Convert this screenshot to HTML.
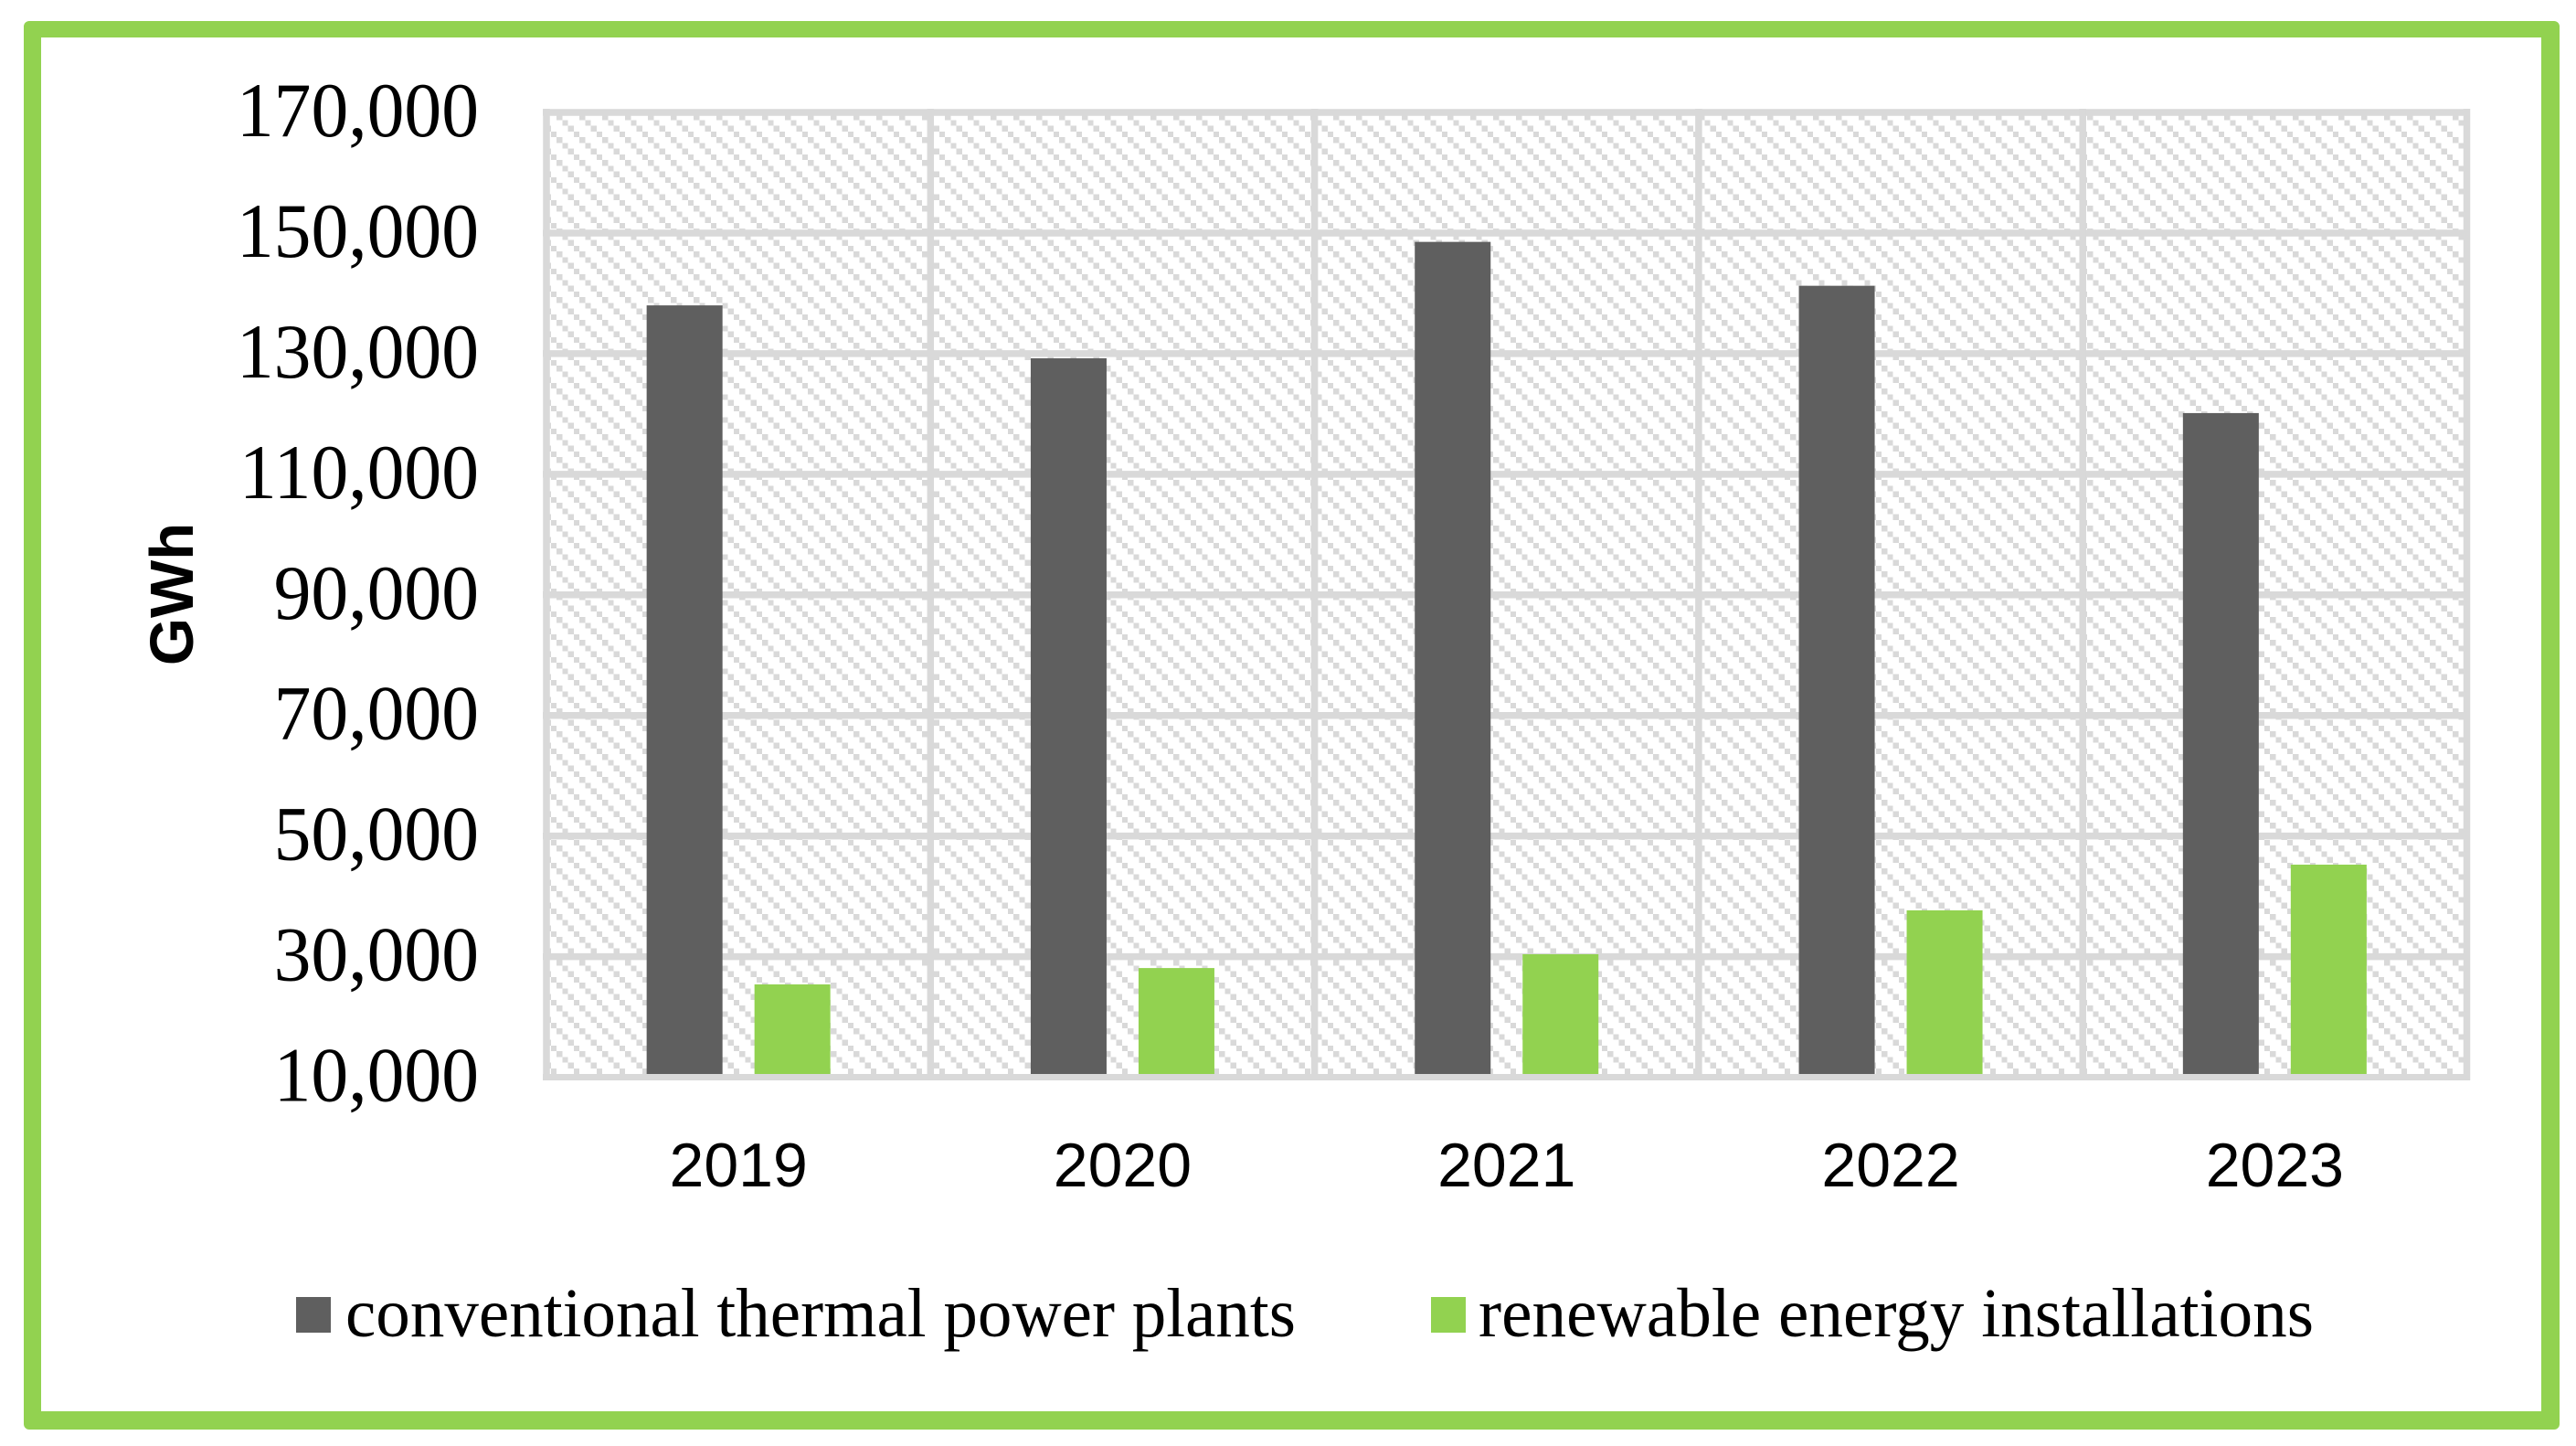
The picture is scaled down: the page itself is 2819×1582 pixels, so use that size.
<!DOCTYPE html>
<html lang="en">
<head>
<meta charset="utf-8">
<title>Electricity generation chart</title>
<style>
  html, body { margin: 0; padding: 0; background: #fff; width: 2819px; height: 1582px; overflow: hidden; }
  #frame { position: absolute; left: 26px; top: 23px; width: 2736px; height: 1503px; border-style: solid; border-color: #92d250; border-width: 18px 20px 20px 19px; border-radius: 6px; }
  #chart { position: absolute; left: 0; top: 0; }
  text { fill: #000; }
  .serif { font-family: "Liberation Serif", serif; }
  .sans { font-family: "Liberation Sans", sans-serif; }
</style>
</head>
<body>
<div id="frame"></div>
<svg id="chart" width="2819" height="1582" viewBox="0 0 2819 1582" xmlns="http://www.w3.org/2000/svg">
  <defs>
    <pattern id="hatch" patternUnits="userSpaceOnUse" x="609" y="125" width="25" height="25">
      <rect x="0" y="0" width="6.25" height="6.25" fill="#d9d9d9" shape-rendering="crispEdges"/>
      <rect x="6.25" y="6.25" width="6.25" height="6.25" fill="#d9d9d9" shape-rendering="crispEdges"/>
      <rect x="12.5" y="12.5" width="6.25" height="6.25" fill="#d9d9d9" shape-rendering="crispEdges"/>
      <rect x="18.75" y="18.75" width="6.25" height="6.25" fill="#d9d9d9" shape-rendering="crispEdges"/>
    </pattern>
  </defs>
  <rect x="598" y="123" width="2101.5" height="1055.5" fill="url(#hatch)"/>
  <g id="grid"></g>
  <g id="bars"></g>
  <g id="axis-line"></g>
  <g id="y-ticks"></g>
  <g id="x-ticks"></g>
  <text class="sans" font-size="67" font-weight="700" text-anchor="middle" transform="translate(211,650) rotate(-90)">GWh</text>
  <g>
    <rect x="324" y="1419" width="38" height="39" fill="#5f5f5f"/>
    <text class="serif" font-size="76" x="378" y="1462" textLength="1040" lengthAdjust="spacingAndGlyphs">conventional thermal power plants</text>
    <rect x="1566" y="1419" width="38" height="39" fill="#92d250"/>
    <text class="serif" font-size="76" x="1618" y="1462" textLength="914" lengthAdjust="spacingAndGlyphs">renewable energy installations</text>
  </g>
</svg>
<script>
const categories = ["2019", "2020", "2021", "2022", "2023"];
const conventionalValues = [138000, 129230, 148530, 141250, 120140];
const renewableValues = [25390, 28100, 30390, 37670, 45250];
const yTickValues = [10000, 30000, 50000, 70000, 90000, 110000, 130000, 150000, 170000];
const yTickLabels = ["10,000", "30,000", "50,000", "70,000", "90,000", "110,000", "130,000", "150,000", "170,000"];

const NS = "http://www.w3.org/2000/svg";
const plotLeft = 598, plotRight = 2699.5, plotTop = 123, plotBottom = 1178.5;
const yMin = 10000, yMax = 170000;
const barWidth = 83, barOffset = 59;
const GREY = "#d9d9d9";

function yScale(v) {
  return plotBottom - (v - yMin) / (yMax - yMin) * (plotBottom - plotTop);
}
function xBand(i) {
  return plotLeft + (i + 0.5) * (plotRight - plotLeft) / categories.length;
}
function xEdge(i) {
  return plotLeft + i * (plotRight - plotLeft) / categories.length;
}
function make(tag, attrs, parent) {
  const el = document.createElementNS(NS, tag);
  for (const k in attrs) el.setAttribute(k, attrs[k]);
  parent.appendChild(el);
  return el;
}

const gridG = document.getElementById("grid");
const barsG = document.getElementById("bars");
const axisG = document.getElementById("axis-line");
const yG = document.getElementById("y-ticks");
const xG = document.getElementById("x-ticks");

yTickValues.forEach(function (v, i) {
  const y = yScale(v);
  if (i > 0) {
    const line = make("line", { x1: plotLeft - 4, x2: plotRight + 3.5, y1: y, y2: y, stroke: GREY, "stroke-width": 7.5 }, gridG);
    
    
  }
  const label = make("text", { class: "serif", "font-size": 85, "text-anchor": "end", transform: "translate(524," + (y + 26) + ") scale(0.96,1)" }, yG);
  label.textContent = yTickLabels[i];
  
  
});

for (let i = 0; i <= categories.length; i++) {
  const x = xEdge(i);
  const vline = make("line", { x1: x, x2: x, y1: plotTop - 4, y2: plotBottom + 3.5, stroke: GREY, "stroke-width": 7.5 }, gridG);
  
  
}

categories.forEach(function (c, i) {
  const cx = xBand(i);
  const y1 = yScale(conventionalValues[i]);
  const darkBar = make("rect", { x: cx - barOffset - barWidth / 2, y: y1, width: barWidth, height: yScale(yMin) - y1, fill: "#5f5f5f" }, barsG);
  
  
  const y2 = yScale(renewableValues[i]);
  const greenBar = make("rect", { x: cx + barOffset - barWidth / 2, y: y2, width: barWidth, height: yScale(yMin) - y2, fill: "#92d250" }, barsG);
  
  
  const label = make("text", { class: "sans", "font-size": 68, "text-anchor": "middle", x: cx, y: 1298 }, xG);
  label.textContent = c;
  
  
});

const baseLine = make("line", { x1: plotLeft - 4, x2: plotRight + 1, y1: yScale(yMin), y2: yScale(yMin), stroke: GREY, "stroke-width": 7 }, axisG);


</script>
</body>
</html>
